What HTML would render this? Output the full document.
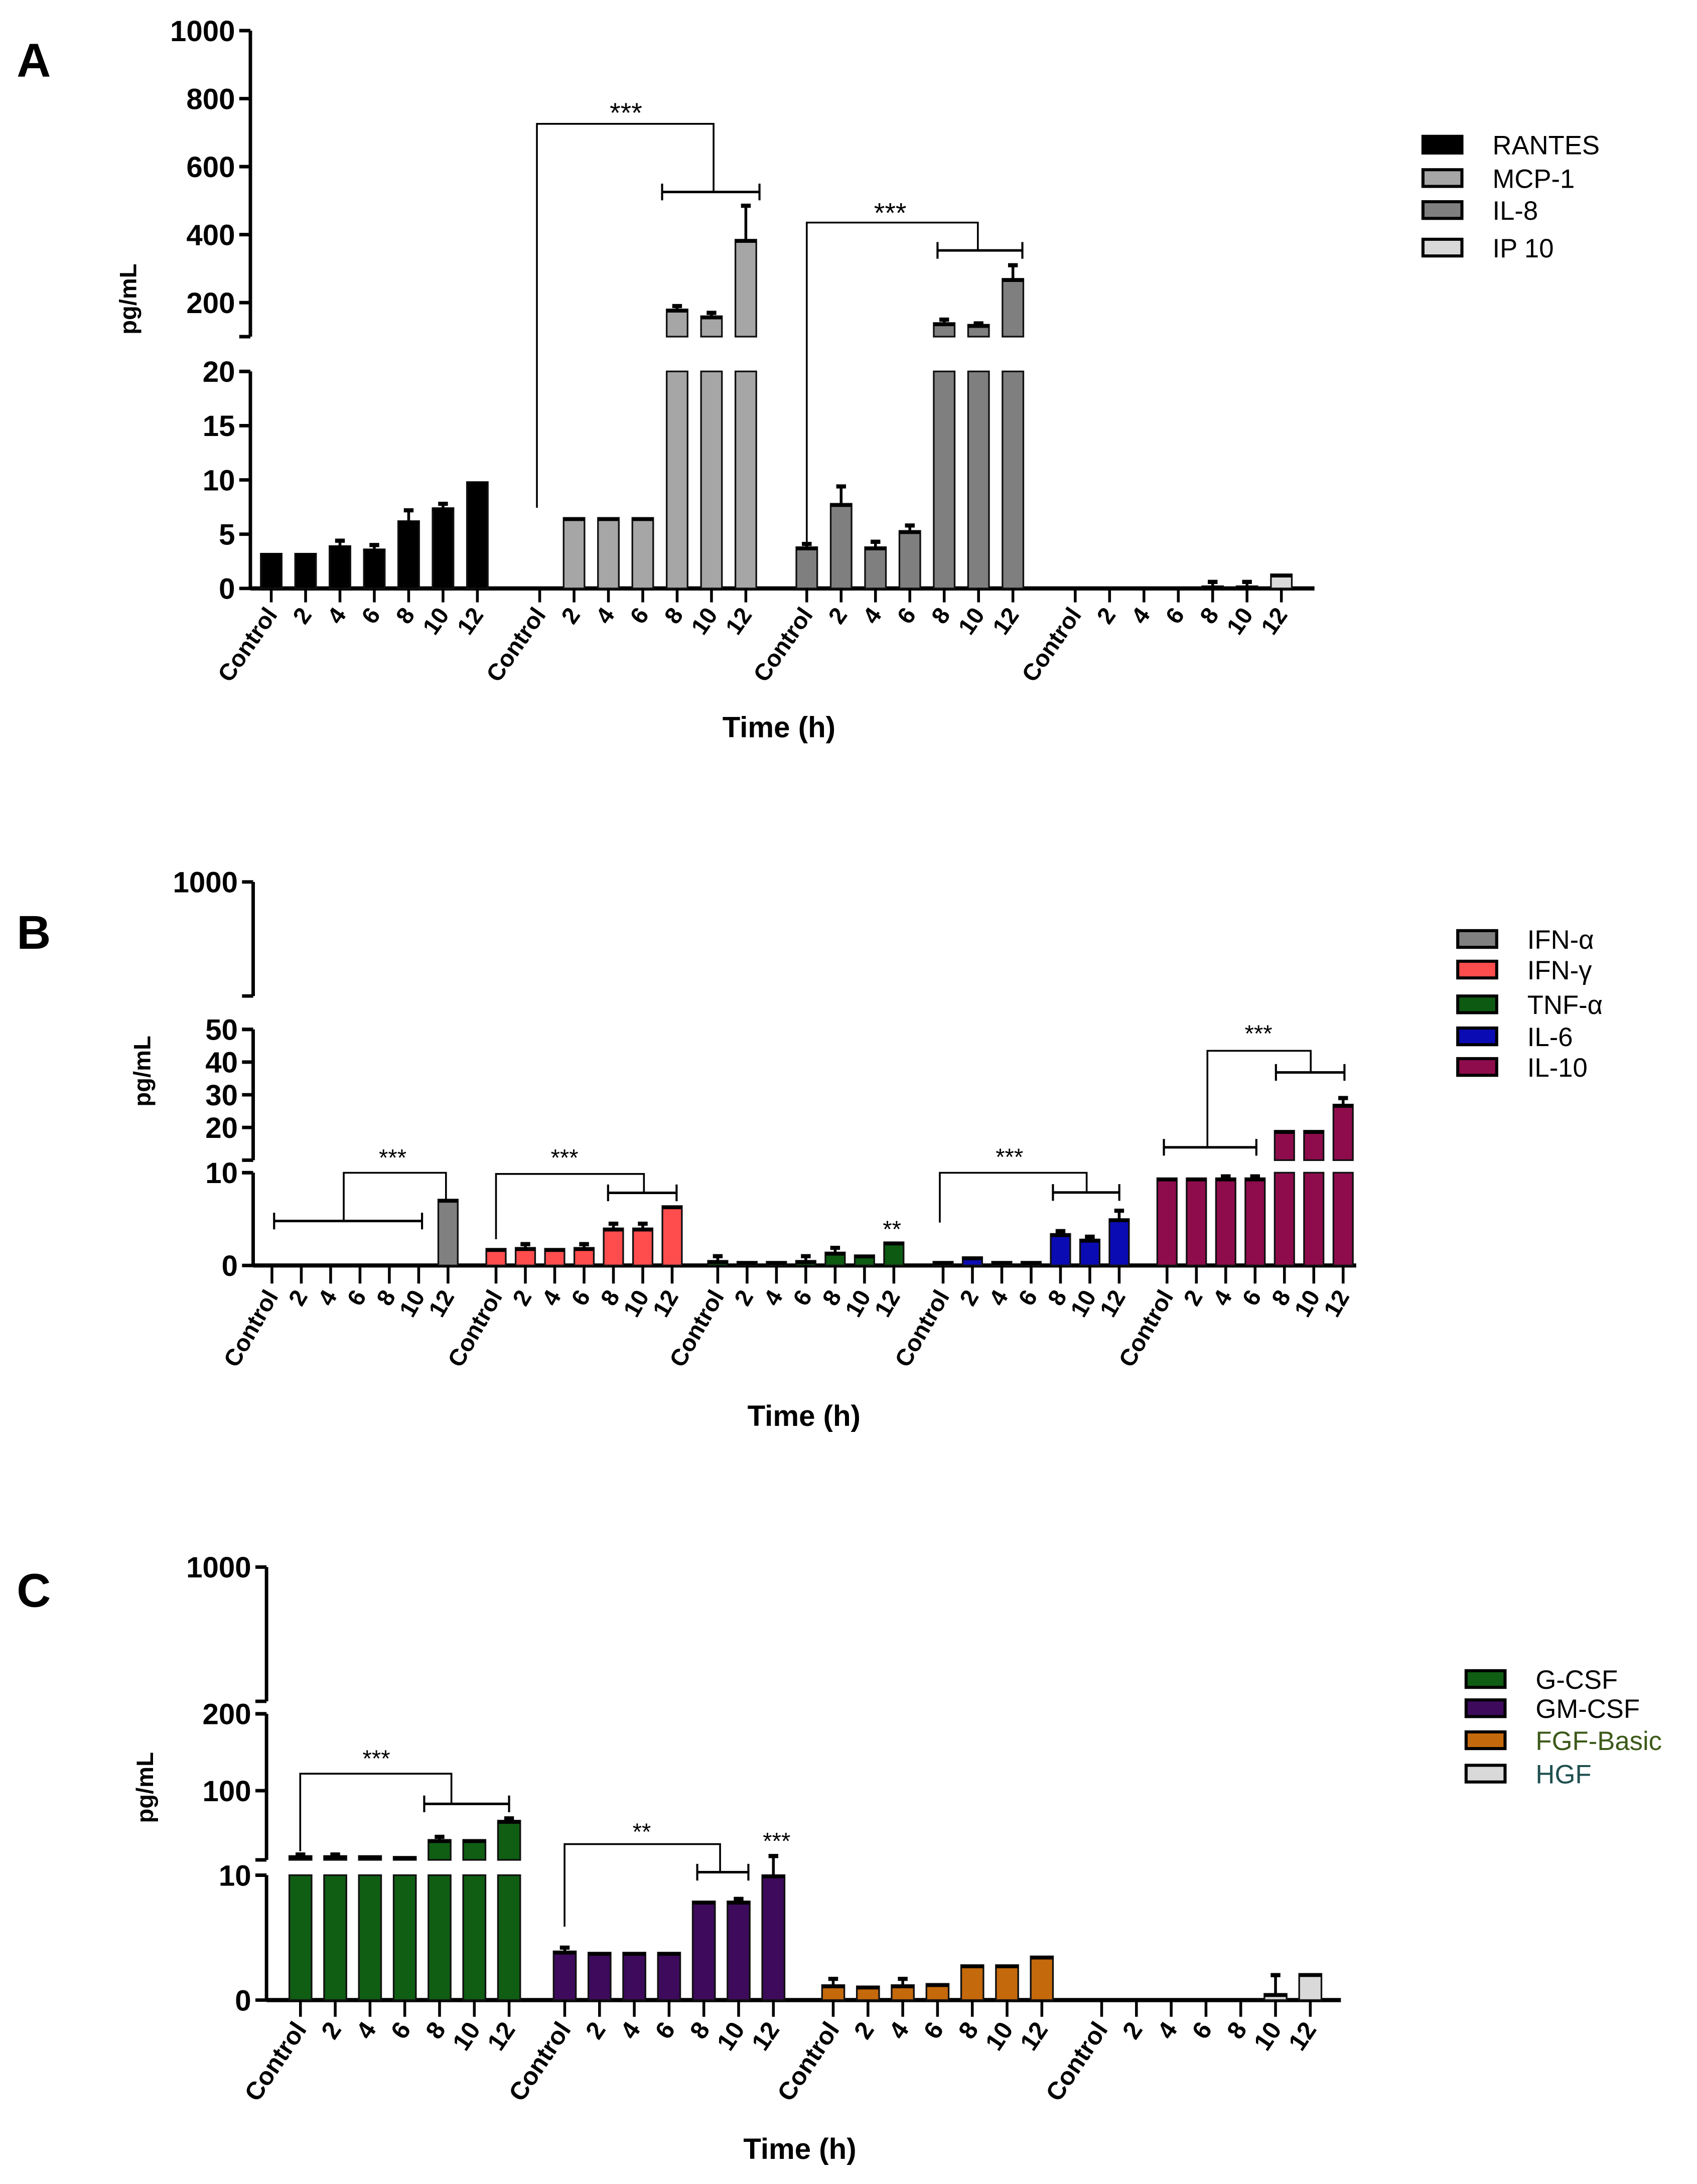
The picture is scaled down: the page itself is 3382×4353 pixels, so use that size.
<!DOCTYPE html>
<html><head><meta charset="utf-8"><style>
html,body{margin:0;padding:0;background:#fff;}
svg{display:block;}
text{font-family:"Liberation Sans",Arial,sans-serif;}
</style></head><body>
<svg id="fig" width="3382" height="4353" viewBox="0 0 1220 1570" preserveAspectRatio="none" xmlns="http://www.w3.org/2000/svg">
<g id="static">
<text x="12" y="55" font-size="34" font-weight="bold">A</text>
<text x="12" y="682" font-size="34" font-weight="bold">B</text>
<text x="12" y="1155" font-size="34" font-weight="bold">C</text>
<text x="560" y="530" font-size="21" font-weight="bold" text-anchor="middle">Time (h)</text>
<text x="578" y="1025" font-size="21" font-weight="bold" text-anchor="middle">Time (h)</text>
<text x="575" y="1552" font-size="21" font-weight="bold" text-anchor="middle">Time (h)</text>
<text transform="translate(98,215) rotate(-90)" font-size="17" font-weight="bold" text-anchor="middle">pg/mL</text>
<text transform="translate(108,770) rotate(-90)" font-size="17" font-weight="bold" text-anchor="middle">pg/mL</text>
<text transform="translate(110,1285) rotate(-90)" font-size="17" font-weight="bold" text-anchor="middle">pg/mL</text>
</g>
</svg>
<script>
// ---------- Panel A data ----------
const catsA = ["Control","2","4","6","8","10","12"];
const seriesA = ["RANTES","MCP-1","IL-8","IP 10"];
const rantesA = [3.2,3.2,3.9,3.6,6.2,7.4,9.8];
const rantesErrA = [0,0,0.5,0.4,1.0,0.4,0];
const mcp1A = [0,6.5,6.5,6.5,180,160,385];
const mcp1ErrA = [0,0,0,0,10,10,100];
const il8A = [3.8,7.8,3.8,5.3,140,135,270];
const il8ErrA = [0.3,1.6,0.5,0.5,10,4,40];
const ip10A = [0,0,0,0,0.2,0.2,1.3];
const ip10ErrA = [0,0,0,0,0.4,0.4,0];
const ticksA = [0,5,10,15,20,200,400,600,800,1000];
// ---------- Panel B data ----------
const catsB = ["Control","2","4","6","8","10","12"];
const seriesB = ["IFN-α","IFN-γ","TNF-α","IL-6","IL-10"];
const ifnaB = [0,0,0,0,0,0,7.1];
const ifnaErrB = [0,0,0,0,0,0,0];
const ifngB = [1.8,1.9,1.8,1.9,4.0,4.0,6.4];
const ifngErrB = [0,0.4,0,0.4,0.5,0.5,0];
const tnfB = [0.5,0.4,0.4,0.5,1.4,1.1,2.5];
const tnfErrB = [0.5,0,0,0.5,0.5,0,0];
const il6B = [0.4,0.9,0.4,0.4,3.4,2.8,5.0];
const il6ErrB = [0,0,0,0,0.3,0.3,0.9];
const il10B = [9.4,9.4,9.4,9.4,19,19,27];
const il10ErrB = [0,0,0.2,0.2,0,0,2];
const ticksB = [0,10,20,30,40,50,1000];
// ---------- Panel C data ----------
const catsC = ["Control","2","4","6","8","10","12"];
const seriesC = ["G-CSF","GM-CSF","FGF-Basic","HGF"];
const gcsfC = [15,15,15,14,36,36,61];
const gcsfErrC = [2,2,0,0,4,0,3];
const gmcsfC = [3.9,3.8,3.8,3.8,7.9,7.9,10];
const gmcsfErrC = [0.3,0,0,0,0,0.2,5];
const fgfC = [1.2,1.1,1.2,1.3,2.8,2.8,3.5];
const fgfErrC = [0.5,0,0.5,0,0,0,0];
const hgfC = [0,0,0,0,0,0.5,2.1];
const hgfErrC = [0,0,0,0,0,1.5,0];
const ticksC = [0,10,100,200,1000];

const NS="http://www.w3.org/2000/svg";
const svg=document.getElementById('fig');
function mk(tag,attrs,parent){const e=document.createElementNS(NS,tag);for(const k in attrs)e.setAttribute(k,attrs[k]);(parent||svg).appendChild(e);return e;}

function drawPanel(p){
  const g=mk('g',{});
  
  
  const segs=p.segs;
  function yOf(v){
    for(const s of segs){ if(v>=s.v0 && v<=s.v1) return s.y0+(v-s.v0)/(s.v1-s.v0)*(s.y1-s.y0); }
    const s=segs[segs.length-1]; return s.y1;
  }
  const axX=p.axisX, base=segs[0].y0;
  segs.forEach((s,si)=>{
    const l=mk('line',{x1:axX,x2:axX,y1:s.y0,y2:s.y1,stroke:'#000','stroke-width':2.5},g);
    
    
    if(si>0) mk('line',{x1:axX-8,x2:axX,y1:s.y0,y2:s.y0,stroke:'#000','stroke-width':2.5},g);
    if(si<segs.length-1) mk('line',{x1:axX-8,x2:axX,y1:s.y1,y2:s.y1,stroke:'#000','stroke-width':2.5},g);
  });
  p.ticks.forEach(t=>{
    const y=yOf(t);
    mk('line',{x1:axX-8,x2:axX,y1:y,y2:y,stroke:'#000','stroke-width':2.5},g);
    const tx=mk('text',{x:axX-11,y:y+7.5,'font-size':21,'font-weight':'bold','text-anchor':'end'},g);
    tx.textContent=t;
    
    
  });
  const xa=mk('line',{x1:axX,x2:p.axisEnd,y1:base,y2:base,stroke:'#000','stroke-width':3},g);
  
  
  p.groups.forEach((grp,gi)=>{
    grp.vals.forEach((v,i)=>{
      const x=p.starts[gi]+i*p.spacing;
      segs.forEach(s=>{
        if(v<=s.v0) return;
        const top=Math.min(v,s.v1);
        const yT=yOf(top), yB=s.y0;
        const r=mk('rect',{x:x-p.bw/2,y:yT,width:p.bw,height:Math.max(0,yB-yT),fill:grp.color,stroke:'#111','stroke-width':1.2},g);
        
        
      });
      if(v>0){
        const yT=yOf(v);
        mk('line',{x1:x-p.bw/2,x2:x+p.bw/2,y1:yT+1,y2:yT+1,stroke:'#000','stroke-width':2.5},g);
      }
      const e=grp.errs[i];
      if(e>0){
        const y1=yOf(v), y2=yOf(v+e);
        const el=mk('line',{x1:x,x2:x,y1:y1,y2:y2,stroke:'#000','stroke-width':2},g);
        
        
        mk('line',{x1:x-3.5,x2:x+3.5,y1:y2,y2:y2,stroke:'#000','stroke-width':3},g);
      }
      mk('line',{x1:x,x2:x,y1:base,y2:base+p.tickLen,stroke:'#000','stroke-width':2},g);
      const lx=x+5, ly=base+p.tickLen+9;
      const t=mk('text',{transform:'translate('+lx+','+ly+') rotate('+p.rot+')','font-size':p.fs,'font-weight':'bold','text-anchor':'end'},g);
      t.textContent=p.cats[i];
      
      
    });
  });
  p.legend.forEach((L,i)=>{
    const y=p.legY[i];
    const r=mk('rect',{x:p.legX,y:y-6,width:28,height:12,fill:L.color,stroke:'#000','stroke-width':2.2},g);
    
    
    const t=mk('text',{x:p.legX+50,y:y+7,'font-size':19,fill:L.tc||'#000'},g);
    t.textContent=L.label;
    
    
  });
  p.brackets.forEach(b=>{
    const pl=mk('polyline',{points:b.pts,fill:'none',stroke:'#000','stroke-width':b.w||1.3},g);
    
    
  });
  p.caps.forEach(c=>{
    mk('line',{x1:c[0],x2:c[1],y1:c[2],y2:c[2],stroke:'#000','stroke-width':1.8},g);
    mk('line',{x1:c[0],x2:c[0],y1:c[2]-6,y2:c[2]+6,stroke:'#000','stroke-width':1.5},g);
    mk('line',{x1:c[1],x2:c[1],y1:c[2]-6,y2:c[2]+6,stroke:'#000','stroke-width':1.5},g);
  });
  p.stars.forEach(s=>{
    const t=mk('text',{x:s[0],y:s[1],'font-size':s[3]||17,'text-anchor':'middle'},g);
    t.textContent=s[2];
    
    
  });
}

drawPanel({
  name:'panel-a-chart', cats:catsA, axisX:180, axisEnd:945,
  segs:[{v0:0,v1:20,y0:423,y1:267},{v0:100,v1:1000,y0:242,y1:22}],
  ticks:ticksA, starts:[195,388,580,773], spacing:24.7, bw:15, tickLen:10, rot:-55, fs:17,
  groups:[
    {key:'rantes',vals:rantesA,errs:rantesErrA,color:'#000'},
    {key:'mcp-1',vals:mcp1A,errs:mcp1ErrA,color:'#a6a6a6'},
    {key:'il-8',vals:il8A,errs:il8ErrA,color:'#7f7f7f'},
    {key:'ip-10',vals:ip10A,errs:ip10ErrA,color:'#d9d9d9'}],
  legend:[{label:seriesA[0],color:'#000'},{label:seriesA[1],color:'#a6a6a6'},{label:seriesA[2],color:'#7f7f7f'},{label:seriesA[3],color:'#d9d9d9'}],
  legX:1023, legY:[104,128,151,178],
  brackets:[{pts:'386,365 386,89 513,89 513,138'},{pts:'580,395 580,160 703,160 703,180'}],
  caps:[[476,546,138],[674,735,180]],
  stars:[[450,88,'***',20],[640,160,'***',20]]
});

function bx(z){return z*0.782;} function byB(z){return 613.3+z*0.2775;} function byC(z){return 1100.3+z*0.3013;}
drawPanel({
  name:'panel-b-chart', cats:catsB, axisX:182, axisEnd:975,
  segs:[{v0:0,v1:10,y0:909.7,y1:843},{v0:10,v1:50,y0:834,y1:740},{v0:50,v1:1000,y0:716,y1:634}],
  ticks:ticksB, starts:[195.5,356.6,516,678,839], spacing:21.1, bw:14, tickLen:13, rot:-60, fs:17,
  groups:[
    {key:'ifn-alpha',vals:ifnaB,errs:ifnaErrB,color:'#808080'},
    {key:'ifn-gamma',vals:ifngB,errs:ifngErrB,color:'#ff4d4d'},
    {key:'tnf-alpha',vals:tnfB,errs:tnfErrB,color:'#0d5a12'},
    {key:'il-6',vals:il6B,errs:il6ErrB,color:'#0b0bb4'},
    {key:'il-10',vals:il10B,errs:il10ErrB,color:'#8e0c4c'}],
  legend:[{label:seriesB[0],color:'#808080'},{label:seriesB[1],color:'#ff4d4d'},{label:seriesB[2],color:'#0d5a12'},{label:seriesB[3],color:'#0b0bb4'},{label:seriesB[4],color:'#8e0c4c'}],
  legX:1048, legY:[675,697,722,745,767],
  brackets:[
    {pts:bx(316)+','+byB(953)+' '+bx(316)+','+byB(828)+' '+bx(410)+','+byB(828)+' '+bx(410)+','+byB(898)},
    {pts:bx(456)+','+byB(1000)+' '+bx(456)+','+byB(831)+' '+bx(592)+','+byB(831)+' '+bx(592)+','+byB(880)},
    {pts:bx(864)+','+byB(957)+' '+bx(864)+','+byB(828)+' '+bx(999)+','+byB(828)+' '+bx(999)+','+byB(879)},
    {pts:bx(1110)+','+byB(762)+' '+bx(1110)+','+byB(512)+' '+bx(1205)+','+byB(512)+' '+bx(1205)+','+byB(568)}],
  caps:[[bx(252),bx(388),byB(953)],[bx(559),bx(622),byB(880)],[bx(968),bx(1029),byB(879)],[bx(1070),bx(1155),byB(762)],[bx(1173),bx(1236),byB(568)]],
  stars:[[bx(361),byB(810),'***'],[bx(519),byB(810),'***'],[bx(820),byB(995),'**'],[bx(928),byB(808),'***'],[bx(1157),byB(488),'***']]
});

drawPanel({
  name:'panel-c-chart', cats:catsC, axisX:191.6, axisEnd:964,
  segs:[{v0:0,v1:10,y0:1437.8,y1:1348},{v0:10,v1:200,y0:1337,y1:1232},{v0:200,v1:1000,y0:1223,y1:1126.5}],
  ticks:ticksC, starts:[216,406,599,792], spacing:25, bw:16, tickLen:12, rot:-56, fs:18,
  groups:[
    {key:'g-csf',vals:gcsfC,errs:gcsfErrC,color:'#0f5e13'},
    {key:'gm-csf',vals:gmcsfC,errs:gmcsfErrC,color:'#3d0a5c'},
    {key:'fgf-basic',vals:fgfC,errs:fgfErrC,color:'#c4690c'},
    {key:'hgf',vals:hgfC,errs:hgfErrC,color:'#d9d9d9'}],
  legend:[{label:seriesC[0],color:'#0f5e13'},{label:seriesC[1],color:'#3d0a5c'},{label:seriesC[2],color:'#c4690c',tc:'#3d5a1a'},{label:seriesC[3],color:'#d9d9d9',tc:'#1f4f4f'}],
  legX:1054, legY:[1207,1228,1251,1275],
  brackets:[
    {pts:bx(276)+','+byC(765)+' '+bx(276)+','+byC(580)+' '+bx(415)+','+byC(580)+' '+bx(415)+','+byC(652)},
    {pts:bx(519)+','+byC(945)+' '+bx(519)+','+byC(748)+' '+bx(662)+','+byC(748)+' '+bx(662)+','+byC(815)}],
  caps:[[bx(390),bx(468),byC(652)],[bx(641),bx(688),byC(815)]],
  stars:[[bx(346),byC(563),'***'],[bx(590),byC(738),'**'],[bx(714),byC(760),'***']]
});
</script>
</body></html>
